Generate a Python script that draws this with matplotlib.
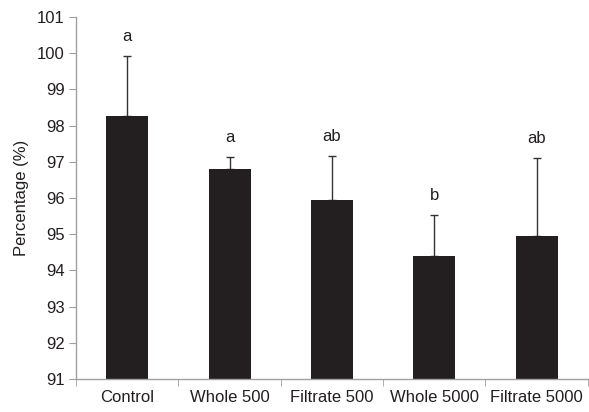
import matplotlib.pyplot as plt
import numpy as np

plt.rcParams['font.family'] = ['Liberation Sans', 'DejaVu Sans']

# values
groups = ["Control", "Whole 500", "Filtrate 500", "Whole 5000", "Filtrate 5000"]
means = [98.26, 96.80, 95.95, 94.39, 94.96]
errors = [1.65, 0.32, 1.20, 1.13, 2.15]
letters = ["a", "a", "ab", "b", "ab"]

dark = "#231f20"
axis_grey = "#a0a0a0"

fig = plt.figure(figsize=(5.89, 4.12), dpi=100)
ax = fig.add_axes([0.129, 0.080, 0.869, 0.879])

x = np.arange(len(groups))
ax.bar(x, [m - 91 for m in means], bottom=91, width=0.41, color=dark, zorder=2)
ax.errorbar(x, means, yerr=[np.zeros(len(errors)), errors], fmt="none",
            ecolor="#333333", elinewidth=1, capsize=3, capthick=1, zorder=1)

for xi, m, e, lab in zip(x, means, errors, letters):
    ax.text(xi, m + e + 0.33, lab, ha="center", va="bottom", fontsize=12, color=dark)

ax.set_ylim(91, 101)
ax.set_yticks(range(91, 102))
ax.set_xlim(-0.5, len(groups) - 0.5)
ax.set_xticks(x)
ax.set_xticklabels(groups)
ax.set_xticks(np.arange(-0.5, len(groups)), minor=True)
ax.tick_params(axis="x", which="major", length=0, pad=8, labelsize=12, labelcolor=dark)
ax.tick_params(axis="x", which="minor", length=5, color=axis_grey, direction="out")
ax.tick_params(axis="y", length=5, color=axis_grey, labelsize=12, labelcolor=dark, pad=3)

for s in ["top", "right"]:
    ax.spines[s].set_visible(False)
for s in ["left", "bottom"]:
    ax.spines[s].set_color(axis_grey)
    ax.spines[s].set_linewidth(1)

ax.set_ylabel("Percentage (%)", fontsize=12, color=dark, labelpad=6)

fig.savefig("out.png", dpi=100)
